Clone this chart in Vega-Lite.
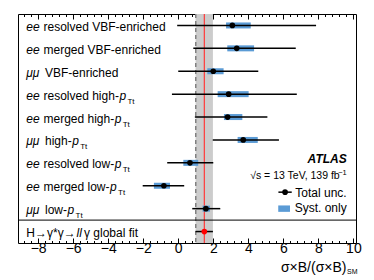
{
  "$schema": "https://vega.github.io/schema/vega-lite/v6.json",
  "width": 338,
  "height": 229,
  "autosize": "none",
  "padding": {"left": 18, "top": 14, "right": 18, "bottom": 37},
  "background": "white",
  "config": {"view": {"stroke": "black", "strokeWidth": 1}, "font": "Liberation Sans", "text": {"font": "Liberation Sans", "color": "black"}},
  "datasets": {
    "rows": [
      {"id": "r1", "grp": "cat", "label": "ee resolved VBF-enriched", "pre": "ee", "rest": "resolved VBF-enriched", "mu": 3.09, "tot_lo": -0.06, "tot_hi": 7.87, "sys_lo": 2.73, "sys_hi": 4.14},
      {"id": "r2", "grp": "cat", "label": "ee merged VBF-enriched", "pre": "ee", "rest": "merged VBF-enriched", "mu": 3.34, "tot_lo": 0.86, "tot_hi": 6.71, "sys_lo": 2.80, "sys_hi": 4.33},
      {"id": "r3", "grp": "cat", "label": "μμ VBF-enriched", "pre": "μμ", "rest": "VBF-enriched", "mu": 2.0, "tot_lo": 0.0, "tot_hi": 4.57, "sys_lo": 1.66, "sys_hi": 2.59},
      {"id": "r4", "grp": "cat", "label": "ee resolved high-pTt", "pre": "ee", "rest": "resolved high-", "mu": 2.88, "tot_lo": -0.36, "tot_hi": 6.77, "sys_lo": 2.25, "sys_hi": 4.02},
      {"id": "r5", "grp": "cat", "label": "ee merged high-pTt", "pre": "ee", "rest": "merged high-", "mu": 2.82, "tot_lo": 0.95, "tot_hi": 5.09, "sys_lo": 2.61, "sys_hi": 3.66},
      {"id": "r6", "grp": "cat", "label": "μμ high-pTt", "pre": "μμ", "rest": "high-", "mu": 3.71, "tot_lo": 1.97, "tot_hi": 5.75, "sys_lo": 3.39, "sys_hi": 4.54},
      {"id": "r7", "grp": "cat", "label": "ee resolved low-pTt", "pre": "ee", "rest": "resolved low-", "mu": 0.67, "tot_lo": -0.63, "tot_hi": 2.0, "sys_lo": 0.29, "sys_hi": 1.14},
      {"id": "r8", "grp": "cat", "label": "ee merged low-pTt", "pre": "ee", "rest": "merged low-", "mu": -0.82, "tot_lo": -2.03, "tot_hi": 0.34, "sys_lo": -1.39, "sys_hi": -0.47},
      {"id": "r9", "grp": "cat", "label": "μμ low-pTt", "pre": "μμ", "rest": "low-", "mu": 1.58, "tot_lo": 0.8, "tot_hi": 2.4, "sys_lo": 1.39, "sys_hi": 1.81},
      {"id": "r10", "grp": "global", "label": "H→γ*γ→llγ global fit", "pre": "", "rest": "", "mu": 1.49, "tot_lo": 0.99, "tot_hi": 1.98, "sys_lo": 1.34, "sys_hi": 1.66}
    ]
  },
  "data": {"name": "rows"},
  "resolve": {"scale": {"y": "independent"}, "axis": {"x": "independent", "y": "independent"}},
  "layer": [
    {
      "transform": [{"filter": "datum.grp === 'global'"}],
      "mark": {"type": "rect", "color": "#cccccc"},
      "encoding": {
        "x": {"field": "tot_lo", "type": "quantitative", "scale": {"domain": [-9.15, 10.15], "nice": false, "zero": false},
          "axis": {"orient": "bottom", "values": [-8, -6, -4, -2, 0, 2, 4, 6, 8, 10], "tickSize": -5, "tickColor": "black", "tickWidth": 1, "domain": false, "grid": false, "labelFont": "Liberation Sans", "labelFontSize": 14, "labelColor": "black", "labelPadding": 3, "labelFlush": false, "labelOverlap": false, "title": "σ×B/(σ×B)", "titleFont": "Liberation Sans", "titleFontSize": 14, "titleFontWeight": "normal", "titleColor": "black", "titleAlign": "right", "titleAnchor": "end", "titleX": 328, "titleY": 28, "titleBaseline": "alphabetic"}},
        "x2": {"field": "tot_hi"}
      }
    },
    {
      "data": {"values": [{}]},
      "mark": {"type": "rule", "color": "#808080", "strokeWidth": 1.5, "strokeDash": [4, 3]},
      "encoding": {
        "x": {"datum": 1, "type": "quantitative",
          "axis": {"orient": "bottom", "values": [-8.8, -8.4, -7.6, -7.2, -6.8, -6.4, -5.6, -5.2, -4.8, -4.4, -3.6, -3.2, -2.8, -2.4, -1.6, -1.2, -0.8, -0.4, 0.4, 0.8, 1.2, 1.6, 2.4, 2.8, 3.2, 3.6, 4.4, 4.8, 5.2, 5.6, 6.4, 6.8, 7.2, 7.6, 8.4, 8.8, 9.2, 9.6], "tickSize": -2.5, "tickColor": "black", "tickWidth": 1, "domain": false, "grid": false, "labels": false, "title": null}}
      }
    },
    {
      "transform": [{"filter": "datum.grp === 'global'"}],
      "mark": {"type": "rule", "color": "#ff3b3b", "strokeWidth": 1.2},
      "encoding": {
        "x": {"field": "mu", "type": "quantitative",
          "axis": {"orient": "top", "values": [-8, -6, -4, -2, 0, 2, 4, 6, 8, 10], "tickSize": -5, "tickColor": "black", "tickWidth": 1, "domain": false, "grid": false, "labels": false, "title": null}}
      }
    },
    {
      "data": {"values": [{}]},
      "mark": {"type": "rule", "color": "black", "strokeWidth": 1},
      "encoding": {
        "x": {"datum": -9.15, "type": "quantitative",
          "axis": {"orient": "top", "values": [-8.8, -8.4, -7.6, -7.2, -6.8, -6.4, -5.6, -5.2, -4.8, -4.4, -3.6, -3.2, -2.8, -2.4, -1.6, -1.2, -0.8, -0.4, 0.4, 0.8, 1.2, 1.6, 2.4, 2.8, 3.2, 3.6, 4.4, 4.8, 5.2, 5.6, 6.4, 6.8, 7.2, 7.6, 8.4, 8.8, 9.2, 9.6], "tickSize": -2.5, "tickColor": "black", "tickWidth": 1, "domain": false, "grid": false, "labels": false, "title": null}},
        "x2": {"datum": 10.15},
        "y": {"datum": 1, "type": "quantitative", "scale": {"domain": [0, 10], "nice": false, "zero": false}, "axis": null}
      }
    },
    {
      "transform": [{"filter": "datum.grp === 'cat'"}],
      "mark": {"type": "bar", "color": "#5b9bd5", "height": 6},
      "encoding": {
        "x": {"field": "sys_lo", "type": "quantitative", "axis": null},
        "x2": {"field": "sys_hi"},
        "y": {"field": "id", "type": "nominal", "scale": {"type": "band", "domain": ["r1", "r2", "r3", "r4", "r5", "r6", "r7", "r8", "r9", "r10"], "paddingInner": 0, "paddingOuter": 0}, "axis": null}
      }
    },
    {
      "mark": {"type": "rule", "color": "black", "strokeWidth": 1.5},
      "encoding": {
        "x": {"field": "tot_lo", "type": "quantitative", "axis": null},
        "x2": {"field": "tot_hi"},
        "y": {"field": "id", "type": "nominal", "scale": {"type": "band", "domain": ["r1", "r2", "r3", "r4", "r5", "r6", "r7", "r8", "r9", "r10"], "paddingInner": 0, "paddingOuter": 0}, "axis": null}
      }
    },
    {
      "mark": {"type": "point", "filled": true, "opacity": 1, "size": 32},
      "encoding": {
        "x": {"field": "mu", "type": "quantitative", "axis": null},
        "y": {"field": "id", "type": "nominal", "scale": {"type": "band", "domain": ["r1", "r2", "r3", "r4", "r5", "r6", "r7", "r8", "r9", "r10"], "paddingInner": 0, "paddingOuter": 0}, "axis": null},
        "color": {"field": "grp", "type": "nominal", "scale": {"domain": ["cat", "global"], "range": ["black", "#ff0000"]}, "legend": null}
      }
    },
    {
      "transform": [{"filter": "datum.grp === 'cat'"}],
      "mark": {"type": "text", "align": "left", "baseline": "alphabetic", "fontSize": 12, "fontStyle": "italic", "dx": 8.3, "dy": 5.5},
      "encoding": {
        "x": {"datum": -9.15, "type": "quantitative", "axis": null},
        "y": {"field": "id", "type": "nominal", "scale": {"type": "band", "domain": ["r1", "r2", "r3", "r4", "r5", "r6", "r7", "r8", "r9", "r10"], "paddingInner": 0, "paddingOuter": 0}, "axis": null},
        "text": {"field": "pre"}
      }
    },
    {
      "transform": [{"filter": "datum.pre === 'ee'"}],
      "mark": {"type": "text", "align": "left", "baseline": "alphabetic", "fontSize": 12, "dx": 25.5, "dy": 5.5},
      "encoding": {
        "x": {"datum": -9.15, "type": "quantitative", "axis": null},
        "y": {"field": "id", "type": "nominal", "scale": {"type": "band", "domain": ["r1", "r2", "r3", "r4", "r5", "r6", "r7", "r8", "r9", "r10"], "paddingInner": 0, "paddingOuter": 0}, "axis": null},
        "text": {"field": "rest"}
      }
    },
    {
      "transform": [{"filter": "datum.pre === 'μμ'"}],
      "mark": {"type": "text", "align": "left", "baseline": "alphabetic", "fontSize": 12, "dx": 27, "dy": 5.5},
      "encoding": {
        "x": {"datum": -9.15, "type": "quantitative", "axis": null},
        "y": {"field": "id", "type": "nominal", "scale": {"type": "band", "domain": ["r1", "r2", "r3", "r4", "r5", "r6", "r7", "r8", "r9", "r10"], "paddingInner": 0, "paddingOuter": 0}, "axis": null},
        "text": {"field": "rest"}
      }
    },
    {
      "transform": [{"filter": "datum.id === 'r4'"}],
      "mark": {"type": "text", "align": "left", "baseline": "alphabetic", "fontSize": 12, "fontStyle": "italic", "dx": 101.4, "dy": 5.5, "text": "p"},
      "encoding": {
        "x": {"datum": -9.15, "type": "quantitative", "axis": null},
        "y": {"field": "id", "type": "nominal", "scale": {"type": "band", "domain": ["r1", "r2", "r3", "r4", "r5", "r6", "r7", "r8", "r9", "r10"], "paddingInner": 0, "paddingOuter": 0}, "axis": null}
      }
    },
    {
      "transform": [{"filter": "datum.id === 'r4'"}],
      "mark": {"type": "text", "align": "left", "baseline": "alphabetic", "fontSize": 8, "dx": 109.4, "dy": 9.5, "text": "Tt"},
      "encoding": {
        "x": {"datum": -9.15, "type": "quantitative", "axis": null},
        "y": {"field": "id", "type": "nominal", "scale": {"type": "band", "domain": ["r1", "r2", "r3", "r4", "r5", "r6", "r7", "r8", "r9", "r10"], "paddingInner": 0, "paddingOuter": 0}, "axis": null}
      }
    },
    {
      "transform": [{"filter": "datum.id === 'r5'"}],
      "mark": {"type": "text", "align": "left", "baseline": "alphabetic", "fontSize": 12, "fontStyle": "italic", "dx": 96.7, "dy": 5.5, "text": "p"},
      "encoding": {
        "x": {"datum": -9.15, "type": "quantitative", "axis": null},
        "y": {"field": "id", "type": "nominal", "scale": {"type": "band", "domain": ["r1", "r2", "r3", "r4", "r5", "r6", "r7", "r8", "r9", "r10"], "paddingInner": 0, "paddingOuter": 0}, "axis": null}
      }
    },
    {
      "transform": [{"filter": "datum.id === 'r5'"}],
      "mark": {"type": "text", "align": "left", "baseline": "alphabetic", "fontSize": 8, "dx": 104.7, "dy": 9.5, "text": "Tt"},
      "encoding": {
        "x": {"datum": -9.15, "type": "quantitative", "axis": null},
        "y": {"field": "id", "type": "nominal", "scale": {"type": "band", "domain": ["r1", "r2", "r3", "r4", "r5", "r6", "r7", "r8", "r9", "r10"], "paddingInner": 0, "paddingOuter": 0}, "axis": null}
      }
    },
    {
      "transform": [{"filter": "datum.id === 'r6'"}],
      "mark": {"type": "text", "align": "left", "baseline": "alphabetic", "fontSize": 12, "fontStyle": "italic", "dx": 54.2, "dy": 5.5, "text": "p"},
      "encoding": {
        "x": {"datum": -9.15, "type": "quantitative", "axis": null},
        "y": {"field": "id", "type": "nominal", "scale": {"type": "band", "domain": ["r1", "r2", "r3", "r4", "r5", "r6", "r7", "r8", "r9", "r10"], "paddingInner": 0, "paddingOuter": 0}, "axis": null}
      }
    },
    {
      "transform": [{"filter": "datum.id === 'r6'"}],
      "mark": {"type": "text", "align": "left", "baseline": "alphabetic", "fontSize": 8, "dx": 62.2, "dy": 9.5, "text": "Tt"},
      "encoding": {
        "x": {"datum": -9.15, "type": "quantitative", "axis": null},
        "y": {"field": "id", "type": "nominal", "scale": {"type": "band", "domain": ["r1", "r2", "r3", "r4", "r5", "r6", "r7", "r8", "r9", "r10"], "paddingInner": 0, "paddingOuter": 0}, "axis": null}
      }
    },
    {
      "transform": [{"filter": "datum.id === 'r7'"}],
      "mark": {"type": "text", "align": "left", "baseline": "alphabetic", "fontSize": 12, "fontStyle": "italic", "dx": 96.7, "dy": 5.5, "text": "p"},
      "encoding": {
        "x": {"datum": -9.15, "type": "quantitative", "axis": null},
        "y": {"field": "id", "type": "nominal", "scale": {"type": "band", "domain": ["r1", "r2", "r3", "r4", "r5", "r6", "r7", "r8", "r9", "r10"], "paddingInner": 0, "paddingOuter": 0}, "axis": null}
      }
    },
    {
      "transform": [{"filter": "datum.id === 'r7'"}],
      "mark": {"type": "text", "align": "left", "baseline": "alphabetic", "fontSize": 8, "dx": 104.7, "dy": 9.5, "text": "Tt"},
      "encoding": {
        "x": {"datum": -9.15, "type": "quantitative", "axis": null},
        "y": {"field": "id", "type": "nominal", "scale": {"type": "band", "domain": ["r1", "r2", "r3", "r4", "r5", "r6", "r7", "r8", "r9", "r10"], "paddingInner": 0, "paddingOuter": 0}, "axis": null}
      }
    },
    {
      "transform": [{"filter": "datum.id === 'r8'"}],
      "mark": {"type": "text", "align": "left", "baseline": "alphabetic", "fontSize": 12, "fontStyle": "italic", "dx": 92, "dy": 5.5, "text": "p"},
      "encoding": {
        "x": {"datum": -9.15, "type": "quantitative", "axis": null},
        "y": {"field": "id", "type": "nominal", "scale": {"type": "band", "domain": ["r1", "r2", "r3", "r4", "r5", "r6", "r7", "r8", "r9", "r10"], "paddingInner": 0, "paddingOuter": 0}, "axis": null}
      }
    },
    {
      "transform": [{"filter": "datum.id === 'r8'"}],
      "mark": {"type": "text", "align": "left", "baseline": "alphabetic", "fontSize": 8, "dx": 100, "dy": 9.5, "text": "Tt"},
      "encoding": {
        "x": {"datum": -9.15, "type": "quantitative", "axis": null},
        "y": {"field": "id", "type": "nominal", "scale": {"type": "band", "domain": ["r1", "r2", "r3", "r4", "r5", "r6", "r7", "r8", "r9", "r10"], "paddingInner": 0, "paddingOuter": 0}, "axis": null}
      }
    },
    {
      "transform": [{"filter": "datum.id === 'r9'"}],
      "mark": {"type": "text", "align": "left", "baseline": "alphabetic", "fontSize": 12, "fontStyle": "italic", "dx": 49.5, "dy": 5.5, "text": "p"},
      "encoding": {
        "x": {"datum": -9.15, "type": "quantitative", "axis": null},
        "y": {"field": "id", "type": "nominal", "scale": {"type": "band", "domain": ["r1", "r2", "r3", "r4", "r5", "r6", "r7", "r8", "r9", "r10"], "paddingInner": 0, "paddingOuter": 0}, "axis": null}
      }
    },
    {
      "transform": [{"filter": "datum.id === 'r9'"}],
      "mark": {"type": "text", "align": "left", "baseline": "alphabetic", "fontSize": 8, "dx": 57.5, "dy": 9.5, "text": "Tt"},
      "encoding": {
        "x": {"datum": -9.15, "type": "quantitative", "axis": null},
        "y": {"field": "id", "type": "nominal", "scale": {"type": "band", "domain": ["r1", "r2", "r3", "r4", "r5", "r6", "r7", "r8", "r9", "r10"], "paddingInner": 0, "paddingOuter": 0}, "axis": null}
      }
    },
    {
      "transform": [{"filter": "datum.grp === 'global'"}],
      "mark": {"type": "text", "align": "left", "baseline": "alphabetic", "fontSize": 12, "dx": 8.3, "dy": 5.5, "text": "H→γ*γ→"},
      "encoding": {
        "x": {"datum": -9.15, "type": "quantitative", "axis": null},
        "y": {"field": "id", "type": "nominal", "scale": {"type": "band", "domain": ["r1", "r2", "r3", "r4", "r5", "r6", "r7", "r8", "r9", "r10"], "paddingInner": 0, "paddingOuter": 0}, "axis": null}
      }
    },
    {
      "transform": [{"filter": "datum.grp === 'global'"}],
      "mark": {"type": "text", "align": "left", "baseline": "alphabetic", "fontSize": 12, "fontStyle": "italic", "dx": 58.5, "dy": 5.5, "text": "ll"},
      "encoding": {
        "x": {"datum": -9.15, "type": "quantitative", "axis": null},
        "y": {"field": "id", "type": "nominal", "scale": {"type": "band", "domain": ["r1", "r2", "r3", "r4", "r5", "r6", "r7", "r8", "r9", "r10"], "paddingInner": 0, "paddingOuter": 0}, "axis": null}
      }
    },
    {
      "transform": [{"filter": "datum.grp === 'global'"}],
      "mark": {"type": "text", "align": "left", "baseline": "alphabetic", "fontSize": 12, "dx": 66, "dy": 5.5, "text": "γ global fit"},
      "encoding": {
        "x": {"datum": -9.15, "type": "quantitative", "axis": null},
        "y": {"field": "id", "type": "nominal", "scale": {"type": "band", "domain": ["r1", "r2", "r3", "r4", "r5", "r6", "r7", "r8", "r9", "r10"], "paddingInner": 0, "paddingOuter": 0}, "axis": null}
      }
    },
    {
      "data": {"values": [{}]},
      "mark": {"type": "text", "align": "right", "baseline": "alphabetic", "fontSize": 12, "fontStyle": "italic", "fontWeight": "bold", "text": "ATLAS"},
      "encoding": {
        "x": {"datum": 9.62, "type": "quantitative", "axis": null},
        "y": {"datum": 3.48, "type": "quantitative", "scale": {"domain": [0, 10], "nice": false, "zero": false}, "axis": null}
      }
    },
    {
      "data": {"values": [{}]},
      "mark": {"type": "text", "align": "right", "baseline": "alphabetic", "fontSize": 10.5, "dx": -7, "text": "√s = 13 TeV, 139 fb"},
      "encoding": {
        "x": {"datum": 9.62, "type": "quantitative", "axis": null},
        "y": {"datum": 2.79, "type": "quantitative", "scale": {"domain": [0, 10], "nice": false, "zero": false}, "axis": null}
      }
    },
    {
      "data": {"values": [{}]},
      "mark": {"type": "text", "align": "right", "baseline": "alphabetic", "fontSize": 7.5, "text": "−1"},
      "encoding": {
        "x": {"datum": 9.62, "type": "quantitative", "axis": null},
        "y": {"datum": 2.97, "type": "quantitative", "scale": {"domain": [0, 10], "nice": false, "zero": false}, "axis": null}
      }
    },
    {
      "data": {"values": [{}]},
      "mark": {"type": "rule", "color": "black", "strokeWidth": 1.5},
      "encoding": {
        "x": {"datum": 5.72, "type": "quantitative", "axis": null},
        "x2": {"datum": 6.48},
        "y": {"datum": 2.22, "type": "quantitative", "scale": {"domain": [0, 10], "nice": false, "zero": false}, "axis": null}
      }
    },
    {
      "data": {"values": [{}]},
      "mark": {"type": "point", "filled": true, "opacity": 1, "color": "black", "size": 32},
      "encoding": {
        "x": {"datum": 6.1, "type": "quantitative", "axis": null},
        "y": {"datum": 2.22, "type": "quantitative", "scale": {"domain": [0, 10], "nice": false, "zero": false}, "axis": null}
      }
    },
    {
      "data": {"values": [{}]},
      "mark": {"type": "text", "align": "right", "baseline": "alphabetic", "fontSize": 12, "text": "Total unc."},
      "encoding": {
        "x": {"datum": 9.62, "type": "quantitative", "axis": null},
        "y": {"datum": 2.03, "type": "quantitative", "scale": {"domain": [0, 10], "nice": false, "zero": false}, "axis": null}
      }
    },
    {
      "data": {"values": [{}]},
      "mark": {"type": "rect", "color": "#5b9bd5"},
      "encoding": {
        "x": {"datum": 5.71, "type": "quantitative", "axis": null},
        "x2": {"datum": 6.38},
        "y": {"datum": 1.36, "type": "quantitative", "scale": {"domain": [0, 10], "nice": false, "zero": false}, "axis": null},
        "y2": {"datum": 1.64}
      }
    },
    {
      "data": {"values": [{}]},
      "mark": {"type": "text", "align": "right", "baseline": "alphabetic", "fontSize": 12, "text": "Syst. only"},
      "encoding": {
        "x": {"datum": 9.62, "type": "quantitative", "axis": null},
        "y": {"datum": 1.34, "type": "quantitative", "scale": {"domain": [0, 10], "nice": false, "zero": false}, "axis": null}
      }
    },
    {
      "data": {"values": [{}]},
      "mark": {"type": "text", "align": "right", "baseline": "alphabetic", "fontSize": 7, "dx": 1.5, "text": "SM"},
      "encoding": {
        "x": {"datum": 10.15, "type": "quantitative", "axis": null},
        "y": {"datum": -1.36, "type": "quantitative", "scale": {"domain": [0, 10], "nice": false, "zero": false}, "axis": null}
      }
    }
  ]
}
